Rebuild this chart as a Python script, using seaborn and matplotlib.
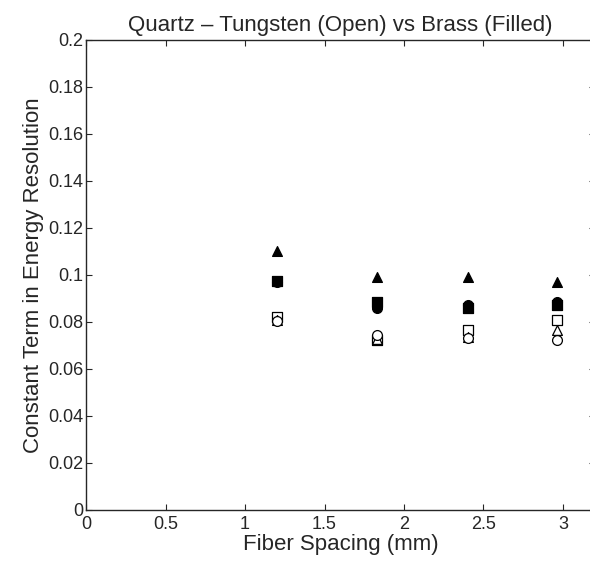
import matplotlib
matplotlib.use("Agg")
import matplotlib.pyplot as plt
import seaborn as sns
import pandas as pd

sns.set_style("ticks")
plt.rcParams['font.family'] = ['Liberation Sans', 'DejaVu Sans']

spacing = [1.2, 1.83, 2.4, 2.96]

# Brass (filled)
brass_tri = [0.110, 0.099, 0.099, 0.097]
brass_sq = [0.0975, 0.0885, 0.086, 0.087]
brass_circ = [0.097, 0.086, 0.087, 0.0885]
# Tungsten (open)
tung_sq = [0.082, 0.0725, 0.0765, 0.081]
tung_tri = [0.0808, 0.0728, 0.0735, 0.0765]
tung_circ = [0.0805, 0.0745, 0.073, 0.0725]

series = [
    ("brass_tri", brass_tri, "^", "black"),
    ("brass_sq", brass_sq, "s", "black"),
    ("brass_circ", brass_circ, "o", "black"),
    ("tung_sq", tung_sq, "s", "white"),
    ("tung_tri", tung_tri, "^", "white"),
    ("tung_circ", tung_circ, "o", "white"),
]

fig = plt.figure(figsize=(5.9, 5.61), dpi=100)
ax = fig.add_axes([0.146, 0.091, 0.862, 0.838])

for name, vals, mk, fc in series:
    df = pd.DataFrame({"x": spacing, "y": vals})
    sns.scatterplot(data=df, x="x", y="y", marker=mk, s=50, color=fc,
                    edgecolor="black", linewidth=0.9, ax=ax, zorder=3)

ax.set_xlim(0, 3.2)
ax.set_ylim(0, 0.2)
ax.set_xticks([0, 0.5, 1, 1.5, 2, 2.5, 3])
ax.set_xticklabels(["0", "0.5", "1", "1.5", "2", "2.5", "3"])
ax.set_yticks([0, 0.02, 0.04, 0.06, 0.08, 0.1, 0.12, 0.14, 0.16, 0.18, 0.2])
ax.set_yticklabels(["0", "0.02", "0.04", "0.06", "0.08", "0.1", "0.12",
                    "0.14", "0.16", "0.18", "0.2"])
ax.tick_params(direction="in", top=True, right=True, labelsize=13,
               length=4, width=0.8)
ax.tick_params(axis="y", pad=2)
ax.tick_params(axis="x", pad=4)
for sp in ax.spines.values():
    sp.set_visible(True)
    sp.set_linewidth(1.0)
ax.set_xlabel("Fiber Spacing (mm)", fontsize=16, labelpad=1)
ax.set_ylabel("Constant Term in Energy Resolution", fontsize=16, labelpad=3)
ax.set_title("Quartz \u2013 Tungsten (Open) vs Brass (Filled)", fontsize=16, pad=6)

fig.savefig("out.png", dpi=100)
